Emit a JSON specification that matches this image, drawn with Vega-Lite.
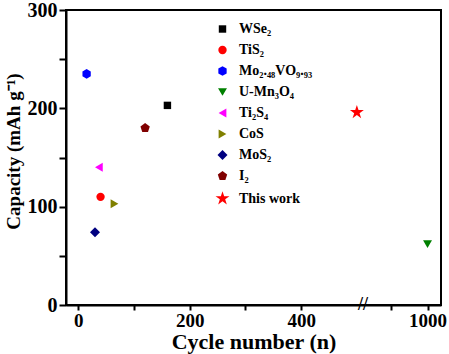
{
  "$schema": "https://vega.github.io/schema/vega-lite/v6.json",
  "width": 375,
  "height": 295,
  "autosize": {"type": "none"},
  "padding": {"left": 66, "top": 10, "right": 8, "bottom": 49},
  "background": "white",
  "config": {
    "view": {"stroke": "black", "strokeWidth": 2},
    "font": "Liberation Serif",
    "axis": {
      "domainColor": "black", "domainWidth": 2, "tickColor": "black", "tickWidth": 2,
      "labelFont": "Liberation Serif", "labelFontWeight": "bold", "labelFontSize": 20, "labelColor": "black",
      "titleFont": "Liberation Serif", "titleFontWeight": "bold", "titleFontSize": 22, "titleColor": "black",
      "grid": false
    }
  },
  "layer": [
    {
      "data": {"values": [
        {"material": "WSe₂", "cycle": 160, "capacity": 203},
        {"material": "TiS₂", "cycle": 40, "capacity": 110},
        {"material": "Mo₂.₄₈VO₉.₉₃", "cycle": 15, "capacity": 235},
        {"material": "U-Mn₃O₄", "cycle": 1000, "capacity": 62},
        {"material": "Ti₂S₄", "cycle": 37, "capacity": 140},
        {"material": "CoS", "cycle": 65, "capacity": 103},
        {"material": "MoS₂", "cycle": 30, "capacity": 74},
        {"material": "I₂", "cycle": 120, "capacity": 180},
        {"material": "This work", "cycle": 500, "capacity": 196}
      ]},
      "mark": {"type": "point", "filled": true, "opacity": 1, "strokeWidth": 0},
      "encoding": {
        "x": {
          "field": "cycle", "type": "quantitative",
          "scale": {"domain": [-22, 511, 823, 1037], "range": [0, 297, 297, 375], "nice": false, "zero": false},
          "axis": {
            "title": "Cycle number (n)", "values": [0, 100, 200, 300, 400, 900, 1000], "format": "d",
            "labelExpr": "datum.value % 200 == 0 ? datum.label : ''", "labelFontSize": 19,
            "tickSize": 5, "labelPadding": 1, "titlePadding": 1, "labelFlush": false, "labelOverlap": false
          }
        },
        "y": {
          "field": "capacity", "type": "quantitative",
          "scale": {"domain": [0, 300], "nice": false},
          "axis": {
            "title": "Capacity (mAh g⁻¹)", "values": [0, 50, 100, 150, 200, 250, 300],
            "labelExpr": "datum.value % 100 == 0 ? datum.label : ''",
            "titleFontSize": 19, "titleY": 141,
            "tickSize": 7, "labelPadding": 2, "titlePadding": 4, "labelFlush": false, "labelOverlap": false
          }
        },
        "color": {
          "field": "material", "type": "nominal",
          "scale": {
            "domain": ["WSe₂", "TiS₂", "Mo₂.₄₈VO₉.₉₃", "U-Mn₃O₄", "Ti₂S₄", "CoS", "MoS₂", "I₂", "This work"],
            "range": ["#000000", "#ff0000", "#0000ff", "#008000", "#ff00ff", "#808000", "#000080", "#800000", "#ff0000"]
          },
          "legend": {
            "orient": "none", "legendX": 148, "legendY": 12, "title": null,
            "labelFont": "Liberation Serif", "labelFontWeight": "bold", "labelFontSize": 14, "labelColor": "black",
            "rowPadding": 7, "labelOffset": 8, "padding": 0
          }
        },
        "shape": {
          "field": "material", "type": "nominal",
          "scale": {
            "domain": ["WSe₂", "TiS₂", "Mo₂.₄₈VO₉.₉₃", "U-Mn₃O₄", "Ti₂S₄", "CoS", "MoS₂", "I₂", "This work"],
            "range": [
              "square", "circle",
              "M0,-1L0.866,-0.5L0.866,0.5L0,1L-0.866,0.5L-0.866,-0.5Z",
              "triangle-down", "triangle-left", "triangle-right", "diamond",
              "M0,-1L0.951,-0.309L0.588,0.809L-0.588,0.809L-0.951,-0.309Z",
              "M0,-1L0.2245,-0.309L0.951,-0.309L0.3633,0.118L0.588,0.809L0,0.382L-0.588,0.809L-0.3633,0.118L-0.951,-0.309L-0.2245,-0.309Z"
            ]
          }
        },
        "size": {
          "field": "material", "type": "nominal",
          "scale": {
            "type": "ordinal",
            "domain": ["WSe₂", "TiS₂", "Mo₂.₄₈VO₉.₉₃", "U-Mn₃O₄", "Ti₂S₄", "CoS", "MoS₂", "I₂", "This work"],
            "range": [55, 70, 92, 80, 80, 80, 100, 96, 215]
          }
        }
      }
    },
    {
      "data": {"values": [{"marker": "//"}]},
      "mark": {"type": "text", "font": "Liberation Serif", "fontWeight": "bold", "fontSize": 18, "baseline": "middle", "align": "center", "color": "black"},
      "encoding": {
        "x": {"datum": 600, "type": "quantitative"},
        "y": {"datum": 0, "type": "quantitative"},
        "text": {"field": "marker"}
      }
    }
  ]
}
